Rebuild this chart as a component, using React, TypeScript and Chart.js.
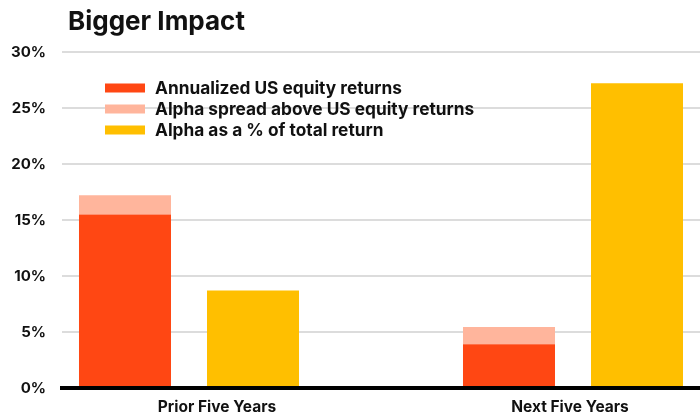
import React, { useEffect, useRef } from "react";
import { Chart, registerables } from "chart.js";

Chart.register(...registerables);

const title = "Bigger Impact";
const categories = ["Prior Five Years", "Next Five Years"];
const equityReturns = [15.5, 3.9];
const alphaSpread = [1.7, 1.55];
const alphaShare = [8.7, 27.2];
const seriesLabels = [
  "Annualized US equity returns",
  "Alpha spread above US equity returns",
  "Alpha as a % of total return",
];
const yMax = 30;
const yStep = 5;

const FONT = "Inter, 'Liberation Sans', sans-serif";
const RED = "#FF4713";
const SALMON = "#FFB59C";
const YELLOW = "#FFBF00";

const overlayPlugin = {
  id: "overlay",
  afterDraw(chart: any) {
    const ctx = chart.ctx;
    const ca = chart.chartArea;
    ctx.save();
    ctx.fillStyle = "#111";
    ctx.font = `bold 26px ${FONT}`;
    ctx.textBaseline = "alphabetic";
    ctx.textAlign = "left";
    ctx.fillText(title, 68, 30);
    ctx.font = `bold 17.3px ${FONT}`;
    ctx.textBaseline = "middle";
    chart.data.datasets.forEach((ds: any, i: number) => {
      const y = ca.top + 36 + i * 21;
      ctx.fillStyle = ds.backgroundColor;
      ctx.fillRect(ca.left + 43, y - 4.5, 40, 9);
      ctx.fillStyle = "#111";
      ctx.fillText(ds.label, ca.left + 93, y + 1);
    });
    ctx.restore();
  },
};

export default function App() {
  const ref = useRef<HTMLCanvasElement>(null);
  useEffect(() => {
    if (!ref.current) return;
    const chart = new Chart(ref.current, {
      type: "bar",
      data: {
        labels: categories,
        datasets: [
          { label: seriesLabels[0], data: equityReturns, backgroundColor: RED, stack: "eq" },
          { label: seriesLabels[1], data: alphaSpread, backgroundColor: SALMON, stack: "eq" },
          { label: seriesLabels[2], data: alphaShare, backgroundColor: YELLOW, stack: "alpha" },
        ],
      },
      options: {
        responsive: false,
        animation: false,
        categoryPercentage: 0.6667,
        barPercentage: 0.71875,
        layout: { padding: { top: 52, left: 10, right: 0, bottom: 0 } },
        plugins: {
          legend: { display: false },
          title: { display: false },
          tooltip: { enabled: false },
        },
        scales: {
          x: {
            display: false,
            afterBuildTicks: (s: any) => {
              s._startValue = -0.33073;
              s._valueRange = 1.66146;
            },
          },
          xl: {
            type: "category",
            position: "bottom",
            grid: { display: false, drawTicks: false },
            border: { display: true, color: "#000", width: 4, z: 1 },
            ticks: {
              color: "#111",
              padding: 10,
              maxRotation: 0,
              font: { family: FONT, size: 15.5, weight: "bold" },
            },
            afterBuildTicks: (s: any) => {
              s._startValue = -0.4391;
              s._valueRange = 1.8074;
            },
            afterFit: (s: any) => {
              s.height = 28;
              s.paddingLeft = 0;
              s.paddingRight = 0;
            },
          },
          y: {
            stacked: true,
            min: 0,
            max: yMax,
            border: { display: false },
            grid: {
              drawTicks: false,
              lineWidth: 2,
              color: (c: any) => (c.tick && c.tick.value === 0 ? "rgba(0,0,0,0)" : "#dcdcdc"),
            },
            ticks: {
              stepSize: yStep,
              padding: 16,
              color: "#111",
              font: { family: FONT, size: 15, weight: "bold" },
              callback: (v: any) => `${v}%`,
            },
            afterFit: (s: any) => {
              s.width = 52;
              s.paddingTop = 0;
              s.paddingBottom = 0;
            },
          },
        },
      },
      plugins: [overlayPlugin],
    } as any);
    return () => chart.destroy();
  }, []);
  return (
    <div style={{ position: "absolute", left: 0, top: 0, width: 700, height: 416 }}>
      <canvas ref={ref} width={700} height={416} style={{ display: "block" }} />
    </div>
  );
}
